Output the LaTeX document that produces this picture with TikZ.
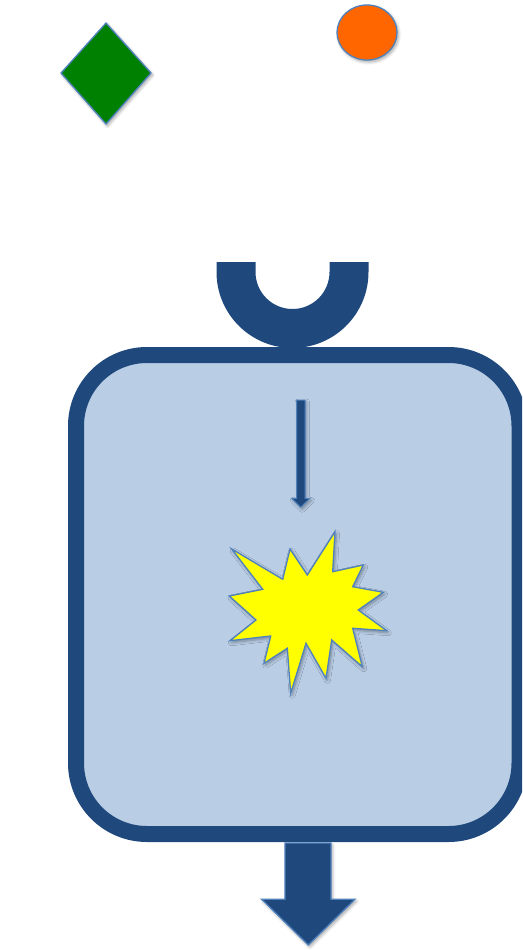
\documentclass[tikz,border=0pt]{standalone}
\usetikzlibrary{shadows.blur}
\definecolor{darkblue}{HTML}{1F497D}
\definecolor{lightfill}{HTML}{B9CDE5}
\definecolor{edgeblue}{HTML}{4F81BD}
\definecolor{greenfill}{HTML}{008000}
\definecolor{orangefill}{HTML}{FF6600}
\definecolor{yellowfill}{RGB}{255,255,0}
\tikzset{
  softshadow/.style={blur shadow={shadow xshift=1.5pt, shadow yshift=-2pt, shadow blur steps=6, shadow blur radius=3pt, shadow opacity=35}},
  thinedge/.style={draw=edgeblue, line width=1.3pt, line join=miter},
}
\begin{document}
\begin{tikzpicture}[x=1pt,y=-1pt]
\useasboundingbox (0,0) rectangle (522,950);
\begin{scope}
\clip (0,0) rectangle (522,950);
% diamond
\path[thinedge, fill=greenfill, softshadow] (106,23) -- (151,73) -- (106,124) -- (61,73) -- cycle;
\coordinate (diamond) at (106,73);
% ellipse
\path[thinedge, fill=orangefill, softshadow] (367,32.5) ellipse [x radius=30, y radius=27.5];
\coordinate (ellipse) at (367,32.5);
% U shape
\path[fill=darkblue] (216.5,262) -- (216.5,272) arc[start angle=180, end angle=0, radius=76]
  -- (368.5,262) -- (329.5,262) -- (329.5,272) arc[start angle=0, end angle=180, radius=37]
  -- (255.5,262) -- cycle;
% container
\path[draw=darkblue, line width=16pt, fill=lightfill, rounded corners=71pt, softshadow]
  (76,355) rectangle (519.5,834);
\coordinate (container) at (297,594);
% small arrow
\path[thinedge, line width=1pt, fill=darkblue, softshadow]
  (296.7,400) -- (305,400) -- (305,498.3) -- (310,498.3) -- (300.7,507.3) -- (291.7,498.3) -- (296.7,498.3) -- cycle;
% star
\path[thinedge, fill=yellowfill, line join=miter, softshadow]
  (335,531.7) -- (332.7,571.7) -- (363.3,565) -- (352.7,586.7) -- (383.3,592.3) -- (358.3,610)
  -- (386.7,630.7) -- (352.7,628.3) -- (362.3,666.7) -- (331.7,640) -- (326,678.3) -- (306,643.3)
  -- (290.7,693.3) -- (287.3,648.3) -- (264,663.3) -- (270.7,636) -- (230,640.7) -- (256,620)
  -- (229.3,596) -- (262.7,589.3) -- (231.7,549) -- (282.7,579.3) -- (290,549) -- (307.3,575) -- cycle;
% bottom arrow
\path[thinedge, fill=darkblue, softshadow]
  (285,843) -- (331,843) -- (331,899.3) -- (355,899.3) -- (308.3,945) -- (261.7,899.3) -- (285,899.3) -- cycle;
\end{scope}
\end{tikzpicture}
\end{document}
